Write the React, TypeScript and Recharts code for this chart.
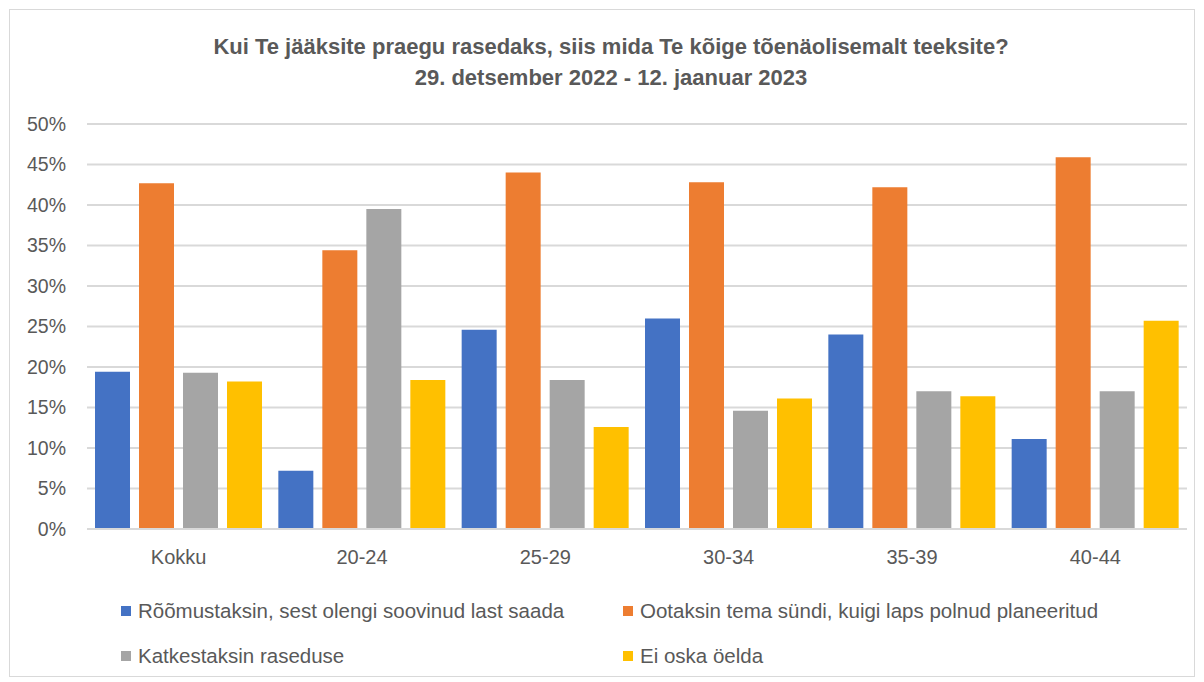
import React from "react";
import { BarChart, Bar, XAxis, YAxis, CartesianGrid } from "recharts";

const categories = ["Kokku", "20-24", "25-29", "30-34", "35-39", "40-44"];
const seriesNames = [
  "Rõõmustaksin, sest olengi soovinud last saada",
  "Ootaksin tema sündi, kuigi laps polnud planeeritud",
  "Katkestaksin raseduse",
  "Ei oska öelda",
];
const rejoice = [19.4, 7.2, 24.6, 26.0, 24.0, 11.1];
const expect = [42.7, 34.4, 44.0, 42.8, 42.2, 45.9];
const terminate = [19.3, 39.5, 18.4, 14.6, 17.0, 17.0];
const dontKnow = [18.2, 18.4, 12.6, 16.1, 16.4, 25.7];
const yTicks = [0, 5, 10, 15, 20, 25, 30, 35, 40, 45, 50];
const colors = ["#4472C4", "#ED7D31", "#A5A5A5", "#FFC000"];
const titleLine1 = "Kui Te jääksite praegu rasedaks, siis mida Te kõige tõenäolisemalt teeksite?";
const titleLine2 = "29. detsember 2022 - 12. jaanuar 2023";

const data = categories.map((c, i) => ({
  name: c,
  s0: rejoice[i],
  s1: expect[i],
  s2: terminate[i],
  s3: dontKnow[i],
}));

const FONT = "'Liberation Sans', Arial, sans-serif";
const TEXT = "#595959";

const legendPositions = [
  { left: 121, top: 599 },
  { left: 623, top: 599 },
  { left: 121, top: 644 },
  { left: 623, top: 644 },
];

export default function App() {
  return (
    <div style={{ position: "absolute", left: 0, top: 0, width: 1204, height: 682, background: "#fff" }}>
      <div
        style={{
          position: "absolute",
          left: 9,
          top: 9,
          width: 1186,
          height: 668,
          border: "1px solid #d9d9d9",
          boxSizing: "border-box",
        }}
      />
      <div
        style={{
          position: "absolute",
          left: 0,
          top: 31,
          width: 1222,
          textAlign: "center",
          fontFamily: FONT,
          fontWeight: "bold",
          fontSize: 22,
          color: TEXT,
          lineHeight: "31px",
        }}
      >
        <div>{titleLine1}</div>
        <div>{titleLine2}</div>
      </div>
      <div style={{ position: "absolute", left: 0, top: 0 }}>
        <BarChart
          width={1204}
          height={682}
          data={data}
          margin={{ top: 124, right: 17, bottom: 113, left: 0 }}
          barCategoryGap={8}
          barGap={9}
        >
          <CartesianGrid vertical={false} stroke="#d9d9d9" strokeWidth={2} />
          <YAxis
            domain={[0, 50]}
            ticks={yTicks}
            interval={0}
            width={87}
            axisLine={false}
            tickLine={false}
            tickSize={0}
            tickMargin={21}
            tickFormatter={(v) => `${v}%`}
            tick={{ fill: TEXT, fontSize: 19.5, fontFamily: FONT }}
          />
          <XAxis
            dataKey="name"
            axisLine={{ stroke: "#d9d9d9", strokeWidth: 2 }}
            tickLine={false}
            tickSize={0}
            tickMargin={21}
            tick={{ fill: TEXT, fontSize: 20, fontFamily: FONT }}
            height={40}
          />
          {colors.map((c, i) => (
            <Bar key={i} dataKey={`s${i}`} name={seriesNames[i]} fill={c} isAnimationActive={false} />
          ))}
        </BarChart>
      </div>
      {seriesNames.map((n, i) => (
        <div
          key={n}
          style={{
            position: "absolute",
            left: legendPositions[i].left,
            top: legendPositions[i].top,
            height: 24,
            display: "flex",
            alignItems: "center",
            fontFamily: FONT,
            fontSize: 20.5,
            color: TEXT,
            whiteSpace: "nowrap",
          }}
        >
          <span
            style={{
              display: "inline-block",
              width: 10,
              height: 10,
              background: colors[i],
              marginRight: 7,
            }}
          />
          {n}
        </div>
      ))}
    </div>
  );
}
